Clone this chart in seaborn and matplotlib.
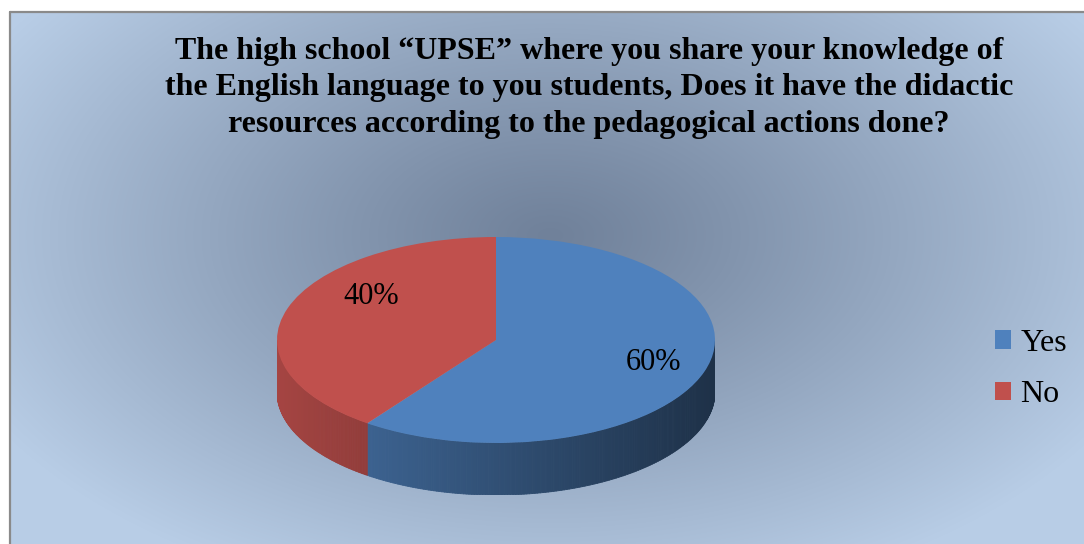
import numpy as np
import matplotlib.pyplot as plt
import seaborn as sns
from matplotlib.collections import PolyCollection
from matplotlib.colors import to_rgb
from matplotlib.lines import Line2D

# Survey answers
answers = ["Yes", "No"]
shares = [60, 40]
pct_labels = ["60%", "40%"]
slice_colors = ["#4f81bd", "#c0504d"]

title = ("The high school \u201cUPSE\u201d where you share your knowledge of\n"
         "the English language to you students, Does it have the didactic\n"
         "resources according to the pedagogical actions done?")

sns.set_theme(style="white")
plt.rcParams["font.family"] = ["Liberation Serif", "DejaVu Serif"]
plt.rcParams["text.color"] = "black"

W, H = 1084, 544
fig = plt.figure(figsize=(W / 100, H / 100), dpi=100, facecolor="white")

# Radial gradient chart area
bg = fig.add_axes([10 / W, 0, 1 - 10 / W, (H - 12) / H])
yy, xx = np.mgrid[12:H, 10:W]
d = np.sqrt(((xx - 550) / 640) ** 2 + ((yy - 235) / 380) ** 2)
d = np.clip(d, 0, 1) ** 1.1
dark = np.array(to_rgb("#70819a"))
light = np.array(to_rgb("#b8cde6"))
bg.imshow(dark + (light - dark) * d[..., None], aspect="auto", extent=(0, 1, 0, 1))
bg.axis("off")
fig.add_artist(Line2D([10 / W, 10 / W], [0, (H - 12) / H], color="#8a8a8a", lw=1.6,
                      transform=fig.transFigure))
fig.add_artist(Line2D([10 / W, 1], [(H - 12) / H, (H - 12) / H], color="#8a8a8a", lw=1.6,
                      transform=fig.transFigure))

# 3D-looking pie: top face from ax.pie, side wall from the same angles
depth = 0.505
ax = fig.add_axes([277 / W, (H - 495) / H, 438 / W, 258 / H])
wedges, _ = ax.pie(shares, colors=slice_colors, startangle=90, counterclock=False,
                   radius=1, wedgeprops=dict(linewidth=0))
ax.set_aspect("auto")
ax.set_xlim(-1, 1)
ax.set_ylim(-1 - depth, 1)
ax.axis("off")

cum = np.cumsum([0] + shares) / sum(shares) * 360
polys, cols = [], []
for i in range(len(shares)):
    ts = np.linspace(90 - cum[i + 1], 90 - cum[i], 300)
    base = np.array(to_rgb(slice_colors[i]))
    for t0, t1 in zip(ts[:-1], ts[1:]):
        tm = np.radians((t0 + t1) / 2)
        if np.sin(tm) >= 0:
            continue
        a0, a1 = np.radians(t0), np.radians(t1)
        x0, y0, x1, y1 = np.cos(a0), np.sin(a0), np.cos(a1), np.sin(a1)
        polys.append([(x0, y0), (x1, y1), (x1, y1 - depth), (x0, y0 - depth)])
        f = 0.86 - 0.24 * (np.cos(tm) + 1)
        cols.append(np.clip(base * f, 0, 1))
side = PolyCollection(polys, facecolors=cols, edgecolors=cols, linewidths=0.6, zorder=0.5)
ax.add_collection(side)

label_xy = [(0.72, -0.22), (-0.57, 0.42)]
for (lx, ly), txt in zip(label_xy, pct_labels):
    ax.text(lx, ly, txt, ha="center", va="center", fontsize=22, color="black")

fig.legend(wedges, answers, loc="center left", bbox_to_anchor=(995 / W, 1 - 369 / H),
           frameon=False, fontsize=23, handlelength=0.5, handleheight=0.5,
           handletextpad=0.3, labelspacing=0.7, borderpad=0, borderaxespad=0,
           labelcolor="black")

fig.text(589 / W, 1 - 88 / H, title, ha="center", va="center", fontsize=23,
         fontweight="bold", linespacing=1.36, color="black")

fig.savefig("out.png", dpi=100, facecolor="white")
